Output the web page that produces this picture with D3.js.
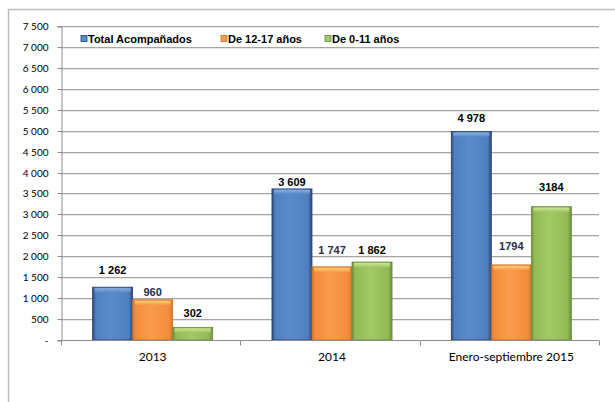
<!DOCTYPE html>
<html><head><meta charset="utf-8">
<script src="https://cdn.jsdelivr.net/npm/d3@7"></script>
<style>body{margin:0;background:#fff}svg{display:block}</style>
</head><body>
<svg id="c" width="615" height="402"></svg>
<script>
const categories = ["2013", "2014", "Enero-septiembre 2015"];
const seriesNames = ["Total Acompañados", "De 12-17 años", "De 0-11 años"];
const totalAcompanados = [1262, 3609, 4978];
const de12a17 = [960, 1747, 1794];
const de0a11 = [302, 1862, 3184];
const labelsTotal = ["1 262", "3 609", "4 978"];
const labels12a17 = ["960", "1 747", "1794"];
const labels0a11 = ["302", "1 862", "3184"];
const yTickValues = [0, 500, 1000, 1500, 2000, 2500, 3000, 3500, 4000, 4500, 5000, 5500, 6000, 6500, 7000, 7500];
const yTickLabels = ["-", "500", "1 000", "1 500", "2 000", "2 500", "3 000", "3 500", "4 000", "4 500", "5 000", "5 500", "6 000", "6 500", "7 000", "7 500"];

(function () {
// styling (not data)
const labelGap = [[17, 8, 14], [7, 17, 12], [14, 19, 20]];
const labelColors = ["#000000", "#1f2d4f", "#000000"];
const colors = [
  {dark:"#2c4a7a", mid:"#5a8bcb", base:"#4f7fbf", top:"#8fb3e0", edge:"#24406e"},
  {dark:"#d9782e", mid:"#fa9c4c", base:"#f48c3c", top:"#fdd57a", edge:"#c9702a"},
  {dark:"#6f9040", mid:"#a3c964", base:"#92ba55", top:"#cfe99a", edge:"#6a8a3a"}
];

const seriesValues = [totalAcompanados, de12a17, de0a11];
const seriesLabels = [labelsTotal, labels12a17, labels0a11];

const svg = d3.select("#c");
const font = "'Liberation Sans', Arial, sans-serif";
const tickFont = "Lato, 'Open Sans', sans-serif";

svg.append("rect").attr("x", 8.5).attr("y", 9.5).attr("width", 640).attr("height", 420)
  .attr("fill", "none").attr("stroke", "#bdbdbd").attr("stroke-width", 1.5);

const pLeft = 61, pRight = 599, pTop = 26, pBottom = 340;
const x = d3.scaleBand().domain(categories).range([pLeft, pRight]).paddingInner(0).paddingOuter(0);
const xs = d3.scaleBand().domain(d3.range(3)).range([0, x.bandwidth()]).paddingInner(0).paddingOuter(0.74);
const y = d3.scaleLinear().domain([0, 7500]).range([pBottom, pTop]);

const defs = svg.append("defs");
colors.forEach((c, i) => {
  const g = defs.append("linearGradient").attr("id", "g" + i).attr("x1", 0).attr("x2", 1).attr("y1", 0).attr("y2", 0);
  g.append("stop").attr("offset", "0%").attr("stop-color", c.dark);
  g.append("stop").attr("offset", "8%").attr("stop-color", c.base);
  g.append("stop").attr("offset", "45%").attr("stop-color", c.mid);
  g.append("stop").attr("offset", "90%").attr("stop-color", c.base);
  g.append("stop").attr("offset", "100%").attr("stop-color", c.dark);
  const t = defs.append("linearGradient").attr("id", "t" + i).attr("x1", 0).attr("x2", 0).attr("y1", 0).attr("y2", 1);
  t.append("stop").attr("offset", "0%").attr("stop-color", c.top);
  t.append("stop").attr("offset", "100%").attr("stop-color", c.mid);
});

svg.append("g").selectAll("line").data(yTickValues.slice(1)).join("line")
  .attr("x1", pLeft).attr("x2", pRight)
  .attr("y1", d => Math.round(y(d)) + 0.5).attr("y2", d => Math.round(y(d)) + 0.5)
  .attr("stroke", "#a6a6a6").attr("stroke-width", 1);
svg.append("g").selectAll("line").data(yTickValues.slice(1)).join("line")
  .attr("x1", pLeft).attr("x2", pRight)
  .attr("y1", d => Math.round(y(d)) + 1.5).attr("y2", d => Math.round(y(d)) + 1.5)
  .attr("stroke", "#e6e6e6").attr("stroke-width", 1);

const yAxis = d3.axisLeft(y).tickValues(yTickValues).tickSize(4).tickPadding(9)
  .tickFormat((d, i) => yTickLabels[i]);
const ya = svg.append("g").attr("transform", `translate(${pLeft + 0.5},0.5)`).call(yAxis);
ya.select(".domain").attr("stroke", "#8c8c8c");
ya.selectAll(".tick line").attr("stroke", "#8c8c8c");
ya.selectAll(".tick text").attr("font-family", tickFont).attr("font-size", 10).attr("fill", "#000");
ya.selectAll(".tick").attr("transform", d => `translate(0,${Math.round(y(d))})`);

const groups = svg.append("g").selectAll("g").data(categories).join("g")
  .attr("transform", d => `translate(${x(d) + 2},0)`);
seriesValues.forEach((vals, si) => {
  groups.append("rect")
    .attr("x", xs(si)).attr("width", xs.bandwidth())
    .attr("y", (d, i) => y(vals[i])).attr("height", (d, i) => pBottom - y(vals[i]))
    .attr("fill", `url(#g${si})`).attr("stroke", colors[si].edge).attr("stroke-width", 0.8);
  groups.append("rect")
    .attr("x", xs(si) + 2).attr("width", xs.bandwidth() - 4)
    .attr("y", (d, i) => y(vals[i]) + 1).attr("height", 4)
    .attr("fill", `url(#t${si})`).attr("opacity", 0.9);
  groups.append("text")
    .attr("x", xs(si) + xs.bandwidth() / 2)
    .attr("y", (d, i) => y(vals[i]) - labelGap[i][si])
    .attr("dy", "0.36em").attr("text-anchor", "middle")
    .attr("font-family", font).attr("font-weight", "bold").attr("font-size", 11)
    .attr("fill", labelColors[si])
    .text((d, i) => seriesLabels[si][i]);
});

const xa = svg.append("g").attr("transform", `translate(0,${pBottom + 0.5})`);
xa.append("line").attr("x1", pLeft).attr("x2", pRight).attr("stroke", "#8c8c8c");
xa.selectAll("line.tk").data(categories.concat(["end"])).join("line").attr("class", "tk")
  .attr("x1", (d, i) => i < 3 ? Math.round(x(d)) + 0.5 : pRight + 0.5)
  .attr("x2", (d, i) => i < 3 ? Math.round(x(d)) + 0.5 : pRight + 0.5)
  .attr("y1", 0).attr("y2", 5).attr("stroke", "#8c8c8c");
xa.selectAll("text").data(categories).join("text")
  .attr("x", d => x(d) + x.bandwidth() / 2 + 2).attr("y", 20)
  .attr("text-anchor", "middle").attr("font-family", tickFont).attr("font-size", 12).attr("fill", "#000")
  .text(d => d);

const legendX = [81, 221, 325];
const lg = svg.append("g");
seriesNames.forEach((n, i) => {
  lg.append("rect").attr("x", legendX[i]).attr("y", 35.5).attr("width", 6).attr("height", 6)
    .attr("fill", colors[i].mid).attr("stroke", colors[i].edge).attr("stroke-width", 0.8);
  lg.append("text").attr("x", legendX[i] + 7).attr("y", 42.5)
    .attr("font-family", font).attr("font-weight", "bold").attr("font-size", 11).attr("fill", "#000")
    .text(n);
});
})();
</script>
</body></html>
